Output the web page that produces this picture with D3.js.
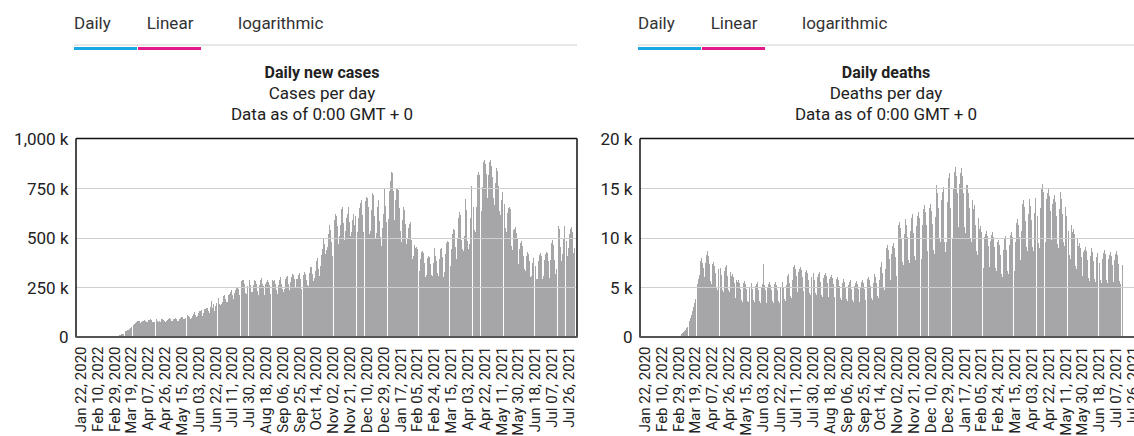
<!DOCTYPE html>
<html>
<head>
<meta charset="utf-8">
<script src="https://cdn.jsdelivr.net/npm/d3@7"></script>
<style>
body { margin: 0; background: #fff; }
svg { display: block; font-family: Roboto, "Noto Sans", sans-serif; }
</style>
</head>
<body>
<script>
(function(){
//tab captions above each chart
var tabNames = ["Daily", "Linear", "logarithmic"];

//x-axis labels, one every 19 days from Jan 22, 2020 (text as shown)
var tickLabels = ["Jan 22, 2020","Feb 10, 2022","Feb 29, 2020","Mar 19, 2022","Apr 07, 2022","Apr 26, 2022",
    "May 15, 2020","Jun 03, 2020","Jun 22, 2020","Jul 11, 2020","Jul 30, 2020","Aug 18, 2020","Sep 06, 2020",
    "Sep 25, 2020","Oct 14, 2020","Nov 02, 2020","Nov 21, 2020","Dec 10, 2020","Dec 29, 2020","Jan 17, 2021",
    "Feb 05, 2021","Feb 24, 2021","Mar 15, 2021","Apr 03, 2021","Apr 22, 2021","May 11, 2021","May 30, 2021",
    "Jun 18, 2021","Jul 07, 2021","Jul 26, 2021"];

//daily new cases, thousands, one row per week starting Wed Jan 22, 2020
var casesK = [
    0.6,0.1,0.3,0.5,0.7,0.8,1.8, 2.1,1.7,2.1,2.6,2.8,3.2,3.9,
    3.7,3.2,3.4,2.7,2.6,2.0,2.0, 1.9,2.5,2.2,2.1,2.6,2.1,1.9,
    0.5,0.6,1.0,0.7,0.6,0.6,0.8, 1.0,1.3,1.4,1.8,2.0,1.8,2.6,
    3.9,4.6,7.3,7.9,10.9,11.5,13.6, 16.8,19.2,25.9,29.8,32.6,33.5,35.6,
    41.3,50,57,62,58,62,70, 72,78,80,78,70,68,74,
    76,80,82,78,72,71,73, 82,85,88,82,74,71,73,
    83,90,86,80,75,77,74, 87,86,92,83,76,74,77,
    81,90,94,90,80,76,79, 90,88,95,90,77,76,86,
    90,95,98,100,90,88,92, 100,105,108,102,97,88,93,
    106,116,122,126,107,97,105, 120,129,130,136,108,106,117,
    138,137,145,146,130,118,137, 147,180,146,166,128,152,169,
    171,185,195,162,159,163,175, 207,212,200,189,173,176,211,
    213,227,236,210,193,190,219, 234,249,244,240,210,204,240,
    281,287,285,266,219,213,253, 289,290,286,262,226,227,258,
    283,281,290,267,228,212,262, 283,294,266,257,217,212,265,
    275,286,273,261,213,240,257, 284,282,283,267,235,216,259,
    276,285,300,266,242,226,241, 288,298,315,306,264,235,276,
    302,318,312,290,255,245,290, 292,310,320,290,241,248,281,
    312,325,318,287,259,254,320, 340,352,350,314,280,297,330,
    381,395,402,340,305,358,410, 440,494,468,416,385,436,450,
    520,562,540,475,409,465,505, 590,621,610,557,469,510,562,
    633,645,655,573,489,533,598, 617,655,650,577,509,527,588,
    621,565,610,518,500,526,596, 649,676,690,615,530,508,615,
    683,707,700,655,520,533,641, 710,724,715,607,491,522,652,
    690,585,423,504,456,546,620, 747,657,578,554,531,591,733,
    784,831,827,734,590,574,690, 750,745,742,650,533,477,587,
    645,655,640,567,466,497,550, 570,580,575,486,393,408,461,
    445,450,440,410,328,331,390, 425,430,420,370,301,284,310,
    395,405,400,364,313,306,370, 440,445,407,379,322,308,393,
    440,445,442,403,303,328,418, 470,480,478,430,352,358,442,
    520,545,540,454,390,397,491, 600,630,615,489,443,433,509,
    680,695,640,480,442,469,596, 760,780,770,654,538,530,654,
    815,830,814,741,617,633,757, 880,890,871,820,700,678,816,
    880,890,860,805,697,662,777, 835,850,835,760,634,614,690,
    730,740,727,669,548,527,626, 650,655,642,569,455,439,536,
    545,555,524,495,368,370,440, 470,480,456,406,339,331,407,
    415,425,419,381,302,307,371, 395,400,396,354,289,292,382,
    410,420,407,364,290,308,385, 416,425,420,380,297,293,384,
    470,485,462,386,315,340,430, 540,560,545,452,380,416,500,
    560,571,550,480,408,445,520, 545,555,530,470,420,445
];

//daily deaths, thousands, same weeks
var deathsK = [
    0.02,0.01,0.01,0.02,0.02,0.02,0.03, 0.03,0.04,0.05,0.05,0.05,0.06,0.07,
    0.07,0.07,0.07,0.07,0.08,0.08,0.08, 0.08,0.08,0.08,0.07,0.07,0.07,0.07,
    0.07,0.06,0.06,0.06,0.05,0.06,0.05, 0.05,0.05,0.06,0.06,0.07,0.08,0.1,
    0.3,0.4,0.5,0.6,0.7,0.9,1.0, 1.2,1.4,1.6,1.9,2.2,2.6,3.0,
    3.4,3.8,4.3,4.8,5.3,5.8,6.2, 7.6,7.9,7.4,6.9,6.2,6.0,7.4,
    8.2,8.6,8.1,7.3,5.6,5.3,7.7, 7.3,7.5,7.1,6.4,4.9,4.7,6.8,
    7.1,7.3,6.9,6.2,4.7,4.5,6.6, 7.0,7.2,6.8,6.1,4.7,4.5,6.5,
    6.1,6.3,6.0,5.4,4.1,3.9,5.7, 5.5,5.7,5.4,4.8,3.7,3.5,5.1,
    5.4,5.6,5.3,4.8,3.6,3.5,5.0, 5.5,5.7,5.4,4.8,3.7,3.5,5.1,
    5.3,5.5,5.2,4.7,3.6,3.4,5.0, 5.3,7.3,5.2,4.7,3.6,3.4,5.0,
    5.3,5.5,5.2,4.7,3.6,3.4,5.0, 5.3,5.5,5.2,4.7,3.6,3.4,5.0,
    5.6,5.8,5.5,4.9,3.8,3.6,5.2, 6.1,6.3,6.0,5.4,4.1,3.9,5.7,
    7.0,7.2,6.8,6.1,4.7,4.5,6.5, 6.8,7.0,6.7,6.0,4.6,4.3,6.3,
    6.5,6.7,6.4,5.7,4.4,4.2,6.0, 6.5,6.7,6.4,5.7,4.4,4.2,6.0,
    6.3,6.5,6.2,5.5,4.2,4.0,5.9, 6.2,6.4,6.1,5.4,4.2,4.0,5.8,
    6.0,6.2,5.9,5.3,4.0,3.8,5.6, 5.8,6.0,5.7,5.1,3.9,3.7,5.4,
    5.6,5.8,5.5,4.9,3.8,3.6,5.2, 5.5,5.7,5.4,4.8,3.7,3.5,5.1,
    5.4,5.6,5.3,4.8,3.6,3.5,5.0, 5.5,5.7,5.4,4.8,3.7,3.5,5.1,
    5.8,6.0,5.7,5.1,3.9,3.7,5.4, 6.1,6.3,6.0,5.4,4.1,3.9,5.7,
    7.0,7.5,7.1,6.4,4.9,4.7,6.8, 8.9,9.2,8.7,7.8,6.0,5.7,8.3,
    9.1,9.4,8.9,8.0,6.1,5.8,8.5, 11.3,11.6,11.0,9.9,7.5,7.2,10.4,
    11.5,11.9,11.3,10.1,7.7,7.4,10.7, 12.0,12.4,11.8,10.5,8.1,7.7,11.2,
    12.2,12.6,12.0,10.7,8.2,7.8,11.3, 12.9,13.3,12.6,11.3,8.6,8.2,12.0,
    13.0,13.4,12.7,11.4,8.7,8.3,12.1, 14.8,15.3,14.5,13.0,9.9,9.5,13.8,
    14.6,15.1,12.0,9.5,8.5,9.5,13.6, 16.0,16.5,13.0,11.5,10.0,9.8,14.9,
    16.6,17.1,16.2,14.5,11.1,10.6,15.4, 16.5,17.0,16.2,14.5,11.1,10.5,15.3,
    14.8,15.3,14.5,13.0,9.9,9.5,13.8, 12.9,13.3,12.6,11.3,8.6,8.2,12.0,
    10.9,11.2,10.6,9.5,7.3,6.9,10.1, 10.4,10.7,10.2,9.1,7.0,6.6,9.6,
    10.3,10.6,10.1,9.0,6.9,6.6,9.5, 9.4,9.7,9.2,8.2,6.3,6.0,8.7,
    9.9,10.2,9.7,8.7,6.6,6.3,9.2, 10.3,10.6,10.1,9.0,6.9,6.6,9.5,
    11.5,11.9,11.3,10.1,7.7,7.4,10.7, 13.4,13.8,13.1,11.7,9.0,8.6,12.4,
    13.5,13.9,13.2,11.8,9.0,8.6,12.5, 14.0,14.4,13.7,12.2,9.4,8.9,13.0,
    14.9,15.4,14.6,13.1,10.0,9.5,13.9, 14.5,14.9,14.2,12.7,9.7,9.2,13.4,
    13.9,14.3,13.6,12.2,9.3,8.9,12.9, 14.2,14.6,13.9,12.4,9.5,9.1,13.1,
    12.2,12.6,12.0,10.7,8.2,7.8,11.3, 10.6,10.9,10.4,9.3,7.1,6.8,9.8,
    9.1,9.4,8.9,8.0,6.1,5.8,8.5, 8.7,9.0,8.6,7.7,5.9,5.6,8.1,
    8.6,8.9,8.5,7.6,5.8,5.5,8.0, 8.4,8.7,8.3,7.4,5.7,5.4,7.8,
    8.4,8.7,8.3,7.4,5.7,5.4,7.8, 8.2,8.5,8.1,7.2,5.5,5.3,7.7,
    8.3,8.6,8.2,7.3,5.6,5.3,7.7, 8.0,7.2
];

//y-axis ticks (thousands)
var casesTicks = [0, 250, 500, 750, 1000];
var deathsTicks = [0, 5, 10, 15, 20];

var panels = [
    {shift: 0, title: "Daily new cases", subtitle: "Cases per day", values: casesK, ticks: casesTicks},
    {shift: 564, title: "Daily deaths", subtitle: "Deaths per day", values: deathsK, ticks: deathsTicks}
];
var note = "Data as of 0:00 GMT + 0";

var width = 1134, height = 436;
var plotLeft = 76, plotTop = 138.5, plotW = 501, plotH = 198;
var start = new Date(Date.UTC(2020, 0, 22));

var svg = d3.select("body").append("svg")
    .attr("width", width)
    .attr("height", height);

//time scale shared by both charts; domain pads a few days before the first bar
var x = d3.scaleUtc()
    .domain([d3.utcHour.offset(start, -127), d3.utcHour.offset(start, 560.5 * 24)])
    .range([0, plotW]);
var step = x(d3.utcDay.offset(start, 1)) - x(start);

panels.forEach(function(p){
    var g = svg.append("g").attr("transform", "translate(" + p.shift + ",0)");
    drawTabs(g);
    drawTitles(g, p);
    drawChart(g, p);
});

function drawTabs(g){
    var tabX = [74, 146.7, 238];
    g.selectAll(".tab")
        .data(tabNames)
        .enter()
        .append("text")
        .attr("class", "tab")
        .attr("x", function(d, i){ return tabX[i]; })
        .attr("y", 28.5)
        .style("font-size", "17px")
        .style("fill", "#333")
        .text(function(d){ return d; });

    g.append("rect").attr("x", 74).attr("y", 44.5).attr("width", 503).attr("height", 1).style("fill", "#cfcfcf");
    g.append("rect").attr("x", 74).attr("y", 47).attr("width", 63).attr("height", 3).style("fill", "#1aa8e4");
    g.append("rect").attr("x", 138).attr("y", 47).attr("width", 63).attr("height", 3).style("fill", "#e4198b");
};

function drawTitles(g, p){
    var cx = 322;
    g.append("text").attr("x", cx).attr("y", 77.5)
        .attr("text-anchor", "middle")
        .style("font-size", "16px").style("font-weight", "bold").style("fill", "#222")
        .text(p.title);
    g.append("text").attr("x", cx).attr("y", 98.5)
        .attr("text-anchor", "middle")
        .style("font-size", "17px").style("fill", "#222")
        .text(p.subtitle);
    g.append("text").attr("x", cx).attr("y", 119.5)
        .attr("text-anchor", "middle")
        .style("font-size", "17px").style("fill", "#222")
        .text(note);
};

function drawChart(g, p){
    var y = d3.scaleLinear()
        .domain([0, p.ticks[p.ticks.length - 1]])
        .range([plotTop + plotH, plotTop]);

    var chart = g.append("g").attr("transform", "translate(" + plotLeft + ",0)");

    //bars
    var bw = step * 0.955;
    chart.append("g")
        .selectAll("rect")
        .data(p.values)
        .enter()
        .append("rect")
        .attr("x", function(d, i){ return x(d3.utcDay.offset(start, i)) - bw / 2; })
        .attr("y", function(d){ return y(d); })
        .attr("width", bw)
        .attr("height", function(d){ return y(0) - y(d); })
        .style("fill", "#a6a6a8")
        .style("shape-rendering", "crispEdges");

    //gridlines drawn over the bars
    chart.selectAll(".grid")
        .data(p.ticks.slice(1, -1))
        .enter()
        .append("line")
        .attr("x1", 0).attr("x2", plotW)
        .attr("y1", function(d){ return Math.round(y(d)) + 0.5; })
        .attr("y2", function(d){ return Math.round(y(d)) + 0.5; })
        .style("stroke", "#cfcfcf")
        .style("stroke-width", 1);

    //frame: top, left, right in black, baseline dark grey
    chart.append("line").attr("x1", 0).attr("x2", plotW).attr("y1", plotTop).attr("y2", plotTop)
        .style("stroke", "#111").style("stroke-width", 1.5);
    chart.append("line").attr("x1", 0).attr("x2", 0).attr("y1", plotTop).attr("y2", plotTop + plotH + 1)
        .style("stroke", "#111").style("stroke-width", 1.5);
    chart.append("line").attr("x1", plotW).attr("x2", plotW).attr("y1", plotTop).attr("y2", plotTop + plotH + 1)
        .style("stroke", "#111").style("stroke-width", 1.5);
    chart.append("line").attr("x1", 0).attr("x2", plotW).attr("y1", plotTop + plotH + 0.5).attr("y2", plotTop + plotH + 0.5)
        .style("stroke", "#555").style("stroke-width", 2);

    //y labels
    var fmt = d3.format(",");
    chart.selectAll(".ylab")
        .data(p.ticks)
        .enter()
        .append("text")
        .attr("class", "ylab")
        .attr("x", -7.5)
        .attr("y", function(d){ return y(d) + 6.5; })
        .attr("text-anchor", "end")
        .style("font-size", "17px")
        .style("fill", "#222")
        .text(function(d){ return d === 0 ? "0" : fmt(d) + " k"; });

    //x labels, rotated
    chart.selectAll(".xlab")
        .data(tickLabels)
        .enter()
        .append("text")
        .attr("class", "xlab")
        .attr("transform", function(d, i){
            return "translate(" + x(d3.utcDay.offset(start, i * 19)) + ",346.5) rotate(-90)";
        })
        .attr("text-anchor", "end")
        .attr("dy", "0.35em")
        .style("font-size", "15px")
        .style("fill", "#222")
        .text(function(d){ return d; });
};
})();
</script>
</body>
</html>
